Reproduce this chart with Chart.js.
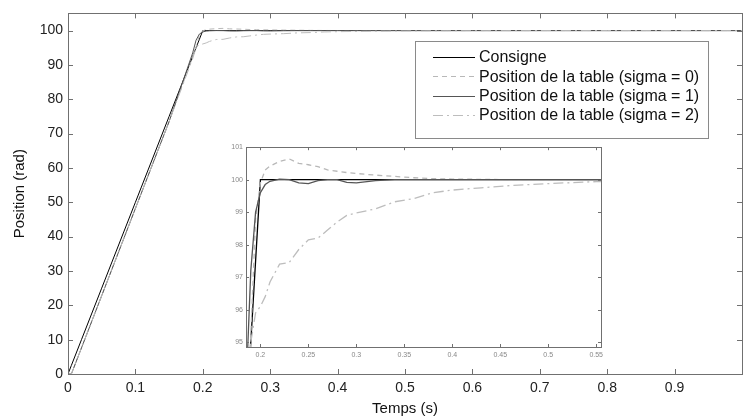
<!DOCTYPE html>
<html>
<head>
<meta charset="utf-8">
<script src="https://cdn.jsdelivr.net/npm/chart.js@4/dist/chart.umd.min.js"></script>
<style>
  html, body { margin: 0; padding: 0; background: #fff; overflow: hidden; }
  #wrap { position: relative; width: 743px; height: 420px; }
  #mainChart { position: absolute; left: 0; top: 0; }
  #zoomChart { position: absolute; left: 220px; top: 140px; }
</style>
</head>
<body>
<div id="wrap">
  <canvas id="mainChart" width="743" height="420"></canvas>
  <canvas id="zoomChart" width="390" height="225"></canvas>
</div>
<script>
// time samples (s)
const temps = [0, 0.005, 0.02, 0.05, 0.1, 0.15, 0.185, 0.19, 0.195, 0.2,
  0.205, 0.21, 0.22, 0.23, 0.24, 0.25, 0.26, 0.27, 0.28, 0.29,
  0.3, 0.32, 0.34, 0.36, 0.38, 0.4, 0.43, 0.46, 0.5, 0.55,
  0.6, 0.7, 0.8, 0.9, 1.0];

// series (rad)
const consigne = [0, 2.5, 10, 25, 50, 75, 92.5, 95, 97.5, 100,
  100, 100, 100, 100, 100, 100, 100, 100, 100, 100,
  100, 100, 100, 100, 100, 100, 100, 100, 100, 100,
  100, 100, 100, 100, 100];
const sigma0 = [0, 0, 7.6, 22.8, 48.2, 73.5, 92.3, 95.2, 98.8, 99.9,
  100.3, 100.42, 100.56, 100.64, 100.5, 100.46, 100.4, 100.3, 100.26, 100.22,
  100.19, 100.14, 100.1, 100.06, 100.03, 100.02, 100.01, 100, 100, 100,
  100, 100, 100, 100, 100];
const sigma1 = [0, 0, 7.6, 22.8, 48.2, 73.5, 93.5, 97.2, 99.0, 99.6,
  99.85, 99.95, 100.02, 100, 99.9, 99.88, 99.97, 100, 100, 99.92,
  99.9, 99.97, 100, 100, 100, 100, 100, 100, 100, 100,
  100, 100, 100, 100, 100];
const sigma2 = [0, 0, 7.6, 22.8, 48.2, 73.5, 91.8, 95.0, 95.9, 96.1,
  96.4, 96.85, 97.4, 97.45, 97.85, 98.15, 98.2, 98.45, 98.7, 98.9,
  98.98, 99.1, 99.32, 99.42, 99.6, 99.68, 99.75, 99.82, 99.88, 99.94,
  99.97, 100, 100, 100, 100];

const xTicksMain = [0, 0.1, 0.2, 0.3, 0.4, 0.5, 0.6, 0.7, 0.8, 0.9];

const FONT = "'Liberation Sans', Arial, sans-serif";

function pts(ys) {
  return temps.map((t, i) => ({ x: t, y: ys[i] }));
}

function makeDatasets(w) {
  return [
    { label: "Consigne", data: pts(consigne), borderColor: "#000", borderWidth: w, borderDash: [], order: 4 },
    { label: "Position de la table (sigma = 0)", data: pts(sigma0), borderColor: "#b8b8b8", borderWidth: w, borderDash: [5, 4], order: 3 },
    { label: "Position de la table (sigma = 1)", data: pts(sigma1), borderColor: "#555", borderWidth: w, borderDash: [], order: 2 },
    { label: "Position de la table (sigma = 2)", data: pts(sigma2), borderColor: "#bdbdbd", borderWidth: w, borderDash: [10, 4, 2, 4], order: 1 },
  ];
}

// box around plot with inward ticks on every side
const boxTicks = {
  id: "boxTicks",
  afterDraw(chart, args, o) {
    const { ctx, chartArea: a, scales } = chart;
    const x = scales.x, y = scales.y;
    ctx.save();
    ctx.strokeStyle = o.color;
    ctx.lineWidth = 1;
    ctx.strokeRect(Math.round(a.left) + 0.5, Math.round(a.top) + 0.5,
      Math.round(a.right - a.left), Math.round(a.bottom - a.top));
    ctx.beginPath();
    x.ticks.forEach(t => {
      const px = Math.round(x.getPixelForValue(t.value)) + 0.5;
      ctx.moveTo(px, a.bottom); ctx.lineTo(px, a.bottom - o.len);
      ctx.moveTo(px, a.top); ctx.lineTo(px, a.top + o.len);
    });
    y.ticks.forEach(t => {
      const py = Math.round(y.getPixelForValue(t.value)) + 0.5;
      ctx.moveTo(a.left, py); ctx.lineTo(a.left + o.len, py);
      ctx.moveTo(a.right, py); ctx.lineTo(a.right - o.len, py);
    });
    ctx.stroke();
    ctx.restore();
  }
};

// boxed legend inside the plot
const boxLegend = {
  id: "boxLegend",
  afterDraw(chart, args, o) {
    if (!o.show) return;
    const ctx = chart.ctx;
    ctx.save();
    ctx.fillStyle = "#fff";
    ctx.fillRect(o.x, o.y, o.w, o.h);
    ctx.strokeStyle = "#8a8a8a";
    ctx.lineWidth = 1;
    ctx.strokeRect(o.x + 0.5, o.y + 0.5, o.w, o.h);
    ctx.font = "16px " + FONT;
    ctx.textBaseline = "middle";
    chart.data.datasets.forEach((ds, i) => {
      const yy = o.y + o.first + i * o.gap;
      ctx.strokeStyle = ds.borderColor;
      ctx.lineWidth = 1;
      ctx.setLineDash(ds.borderDash || []);
      ctx.beginPath();
      ctx.moveTo(o.x0, Math.round(yy) + 0.5);
      ctx.lineTo(o.x1, Math.round(yy) + 0.5);
      ctx.stroke();
      ctx.setLineDash([]);
      ctx.fillStyle = "#111";
      ctx.fillText(ds.label, o.tx, yy + 1);
    });
    ctx.restore();
  }
};

Chart.defaults.font.family = FONT;
Chart.defaults.animation = false;

// main chart
new Chart(document.getElementById("mainChart"), {
  type: "line",
  data: { datasets: makeDatasets(1) },
  plugins: [boxTicks, boxLegend],
  options: {
    responsive: false,
    devicePixelRatio: 1,
    layout: { padding: { top: 8, right: 1, left: 0, bottom: 0 } },
    elements: { point: { radius: 0 }, line: { tension: 0 } },
    plugins: {
      legend: { display: false },
      tooltip: { enabled: false },
      boxTicks: { color: "#707070", len: 5 },
      boxLegend: { show: true, x: 415, y: 41, w: 293, h: 97, first: 16, gap: 19.3, x0: 433, x1: 475, tx: 479 }
    },
    scales: {
      x: {
        type: "linear", min: 0, max: 1,
        afterBuildTicks: s => { s.ticks = xTicksMain.map(v => ({ value: v })); },
        grid: { display: false, drawTicks: false },
        border: { display: false },
        ticks: {
          color: "#222", font: { size: 14 }, padding: 6, maxRotation: 0,
          callback: v => (v === 0 ? "0" : v.toFixed(1))
        },
        title: { display: true, text: "Temps (s)", color: "#111", font: { size: 15 }, padding: { top: 0, bottom: 2 } },
        afterFit: s => { s.height = 46; }
      },
      y: {
        min: 0, max: 105,
        ticks: { stepSize: 10, includeBounds: false, color: "#222", font: { size: 14 }, padding: 5 },
        grid: { display: false, drawTicks: false },
        border: { display: false },
        title: { display: true, text: "Position (rad)", color: "#111", font: { size: 15 }, padding: { top: 11, bottom: 0 } },
        afterFit: s => { s.width = 68; }
      }
    }
  }
});

// zoom inset
const bgWhite = {
  id: "bgWhite",
  beforeDraw(chart) {
    const ctx = chart.ctx;
    ctx.save();
    ctx.fillStyle = "#fff";
    ctx.fillRect(0, 0, chart.width, chart.height);
    ctx.restore();
  }
};

new Chart(document.getElementById("zoomChart"), {
  type: "line",
  data: { datasets: makeDatasets(1.3) },
  plugins: [bgWhite, boxTicks],
  options: {
    responsive: false,
    devicePixelRatio: 1,
    layout: { padding: { top: 7, right: 9, left: 0, bottom: 0 } },
    elements: { point: { radius: 0 }, line: { tension: 0 } },
    plugins: {
      legend: { display: false },
      tooltip: { enabled: false },
      boxTicks: { color: "#707070", len: 3 }
    },
    scales: {
      x: {
        type: "linear", min: 0.185, max: 0.555,
        grid: { display: false, drawTicks: false },
        border: { display: false },
        ticks: {
          stepSize: 0.05, includeBounds: false, color: "#888", font: { size: 7 }, padding: 4, maxRotation: 0,
          callback: v => String(Number(v.toFixed(2)))
        },
        afterFit: s => { s.height = 18; }
      },
      y: {
        min: 94.85, max: 101,
        grid: { display: false, drawTicks: false },
        border: { display: false },
        ticks: { stepSize: 1, includeBounds: false, color: "#888", font: { size: 7 }, padding: 3 },
        afterFit: s => { s.width = 26; }
      }
    }
  }
});
</script>
</body>
</html>
